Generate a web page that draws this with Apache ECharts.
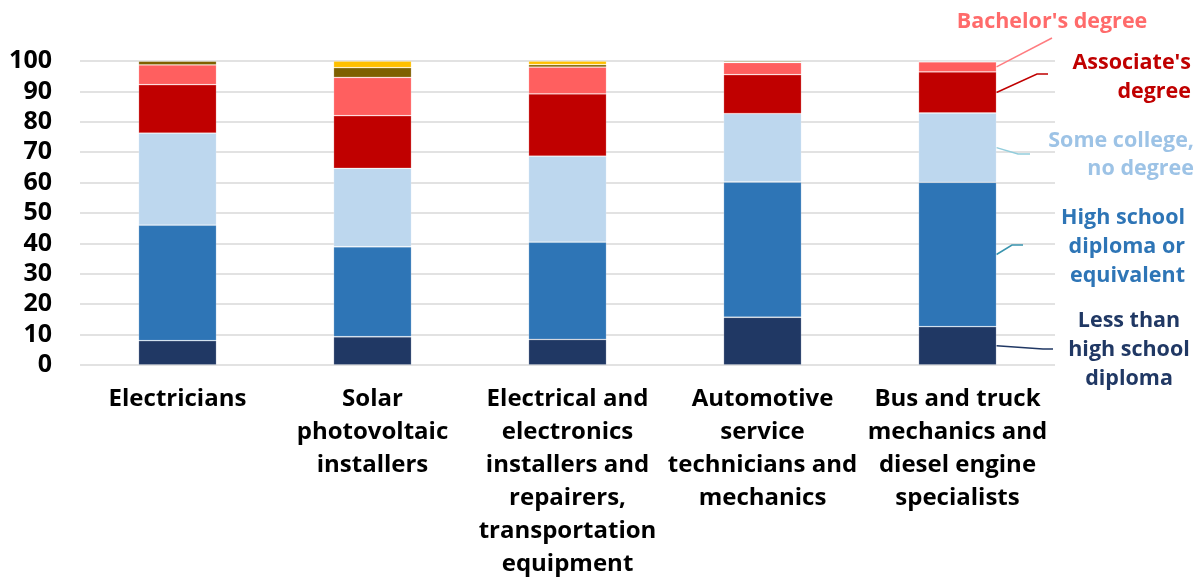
<!DOCTYPE html>
<html>
<head>
<meta charset="utf-8">
<script src="https://cdn.jsdelivr.net/npm/echarts@6/dist/echarts.min.js"></script>
<style>
  html, body { margin: 0; padding: 0; background: #fff; }
  #chart { width: 1199px; height: 578px; }
</style>
</head>
<body>
<div id="chart"></div>
<script>
// Occupations (x-axis categories, wrapped as drawn)
const categories = [
  'Electricians',
  'Solar\nphotovoltaic\ninstallers',
  'Electrical and\nelectronics\ninstallers and\nrepairers,\ntransportation\nequipment',
  'Automotive\nservice\ntechnicians and\nmechanics',
  'Bus and truck\nmechanics and\ndiesel engine\nspecialists'
];

// Share of workers (%) by highest level of education, bottom to top of each stack
const lessThanHighSchool = [8.0, 9.3, 8.4, 15.7, 12.6];
const highSchool         = [38.0, 29.6, 32.0, 44.5, 47.5];
const someCollege        = [30.3, 25.8, 28.3, 22.5, 22.8];
const associates         = [15.9, 17.3, 20.5, 12.8, 13.5];
const bachelors          = [6.5, 12.6, 8.8, 4.0, 3.3];
const masters            = [1.3, 3.2, 0.8, 0.5, 0.3];
const doctoral           = [0.0, 2.2, 1.2, 0.0, 0.0];

const yTicks = { min: 0, max: 100, interval: 10 };

const seriesDefs = [
  { name: 'Less than high school diploma', data: lessThanHighSchool, color: '#203864',
    label: ['Less than', 'high school', 'diploma'], line: '#203864' },
  { name: 'High school diploma or equivalent', data: highSchool, color: '#2E75B6',
    label: ['High school', 'diploma or', 'equivalent'], line: '#3A94AE' },
  { name: 'Some college, no degree', data: someCollege, color: '#BDD7EE',
    label: ['Some college,', 'no degree'], text: '#9DC3E6', line: '#92CDDC' },
  { name: "Associate's degree", data: associates, color: '#C00000',
    label: ["Associate's", 'degree'], line: '#C00000' },
  { name: "Bachelor's degree", data: bachelors, color: '#FF5F5F',
    label: ["Bachelor's degree"], text: '#FF6B6B', line: '#FF7C80' },
  { name: "Master's degree", data: masters, color: '#7F6000' },
  { name: 'Doctoral or professional degree', data: doctoral, color: '#FFC000' }
];

const FONT = '"Open Sans", "Noto Sans", sans-serif';

const chart = echarts.init(document.getElementById('chart'), null, { renderer: 'canvas' });

chart.setOption({
  animation: false,
  backgroundColor: '#ffffff',
  grid: {
    left: 80, right: 144, top: 61, bottom: 213,
    containLabel: false,
    outerBoundsMode: 'none'
  },
  xAxis: {
    type: 'category',
    data: categories,
    axisLine: { show: false },
    axisTick: { show: false },
    axisLabel: {
      interval: 0,
      margin: 18,
      fontFamily: FONT,
      fontWeight: 'bold',
      fontSize: 24,
      lineHeight: 33,
      color: '#000000',
      align: 'center'
    }
  },
  yAxis: {
    type: 'value',
    min: yTicks.min,
    max: yTicks.max,
    interval: yTicks.interval,
    axisLine: { show: false },
    axisTick: { show: false },
    splitLine: { lineStyle: { color: '#D9D9D9', width: 1.5 } },
    axisLabel: {
      margin: 28,
      fontFamily: FONT,
      fontWeight: 'bold',
      fontSize: 25,
      color: '#000000'
    }
  },
  series: seriesDefs.map(s => ({
    name: s.name,
    type: 'bar',
    stack: 'education',
    barWidth: '40%',
    data: s.data,
    itemStyle: { color: s.color, borderColor: 'rgba(255,255,255,0.25)', borderWidth: 0.8 }
  }))
});

// Leader lines and labels for the stack segments, anchored on the last bar
function drawAnnotations() {
  const last = categories.length - 1;
  const p0 = chart.convertToPixel({ xAxisIndex: 0, yAxisIndex: 0 }, [0, 0]);
  const p1 = chart.convertToPixel({ xAxisIndex: 0, yAxisIndex: 0 }, [1, 0]);
  const band = p1[0] - p0[0];
  const barRight = chart.convertToPixel({ xAxisIndex: 0, yAxisIndex: 0 }, [last, 0])[0] + band * 0.2;

  // where each leader line ends and where its label sits
  const layout = [
    { bend: [1043, 349], end: [1053, 349], align: 'center', x: 1129, ys: [321, 350, 379] },
    { bend: [1012, 245], end: [1023, 245], align: 'right', x: 1185, ys: [218, 247, 276] },
    { bend: [1018, 154], end: [1030, 154], align: 'right', x: 1194, ys: [141, 169] },
    { bend: [1037, 74],  end: [1048, 74],  align: 'right', x: 1191, ys: [63, 92] },
    { bend: null,        end: [1052, 38],  align: 'center', x: 1052, ys: [22] }
  ];

  const elements = [];
  let cum = 0;
  seriesDefs.forEach((s, i) => {
    const v = s.data[last];
    const mid = cum + v / 2;
    cum += v;
    if (!s.label) return;
    const L = layout[i];
    const y = chart.convertToPixel({ xAxisIndex: 0, yAxisIndex: 0 }, [last, mid])[1];
    const pts = [[barRight, y]];
    if (L.bend) pts.push(L.bend);
    pts.push(L.end);
    elements.push({
      type: 'polyline',
      shape: { points: pts },
      style: { stroke: s.line, lineWidth: 1.5, fill: null },
      silent: true
    });
    s.label.forEach((t, k) => {
      elements.push({
        type: 'text',
        x: L.x,
        y: L.ys[k],
        style: {
          text: t,
          fill: s.text || s.color,
          font: 'bold 21.5px ' + FONT,
          textAlign: L.align,
          textVerticalAlign: 'middle'
        },
        silent: true
      });
    });
  });
  chart.setOption({ graphic: { elements } });
}
drawAnnotations();
</script>
</body>
</html>
